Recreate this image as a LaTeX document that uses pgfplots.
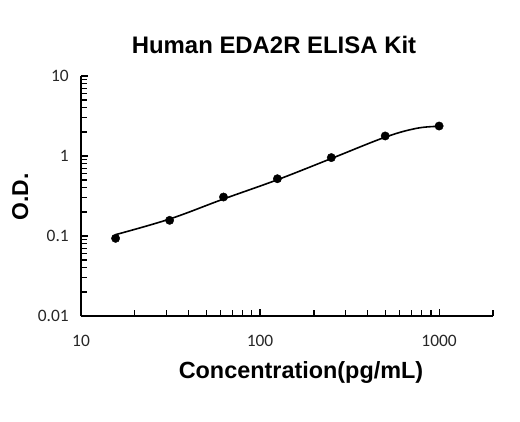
\documentclass[border=0pt]{standalone}
\usepackage{pgfplots}
\pgfplotsset{compat=1.18}
\usepackage{fontspec}
\setmainfont{Liberation Sans}
\newfontfamily\tickfont{Carlito}
\begin{document}
\begin{tikzpicture}[x=1bp,y=1bp]
\path[use as bounding box] (0,0) rectangle (520,421);
\begin{axis}[
  at={(81bp,105bp)}, anchor=south west,
  scale only axis, width=412bp, height=240bp,
  xmode=log, ymode=log,
  xmin=10, xmax=2000, ymin=0.01, ymax=10,
  axis x line*=bottom, axis y line*=left,
  axis line style={line width=1.5bp, black},
  xtick={10,100,1000}, xticklabels={10,100,1000},
  ytick={0.01,0.1,1,10}, yticklabels={0.01,0.1,1,10},
  minor xtick={20,30,40,50,60,70,80,90,200,300,400,500,600,700,800,900,2000},
  minor ytick={0.02,0.03,0.04,0.05,0.06,0.07,0.08,0.09,0.2,0.3,0.4,0.5,0.6,0.7,0.8,0.9,2,3,4,5,6,7,8,9},
  tick align=inside,
  major tick length=7bp, minor tick length=6bp,
  every tick/.style={black, line width=1.2bp},
  xticklabel style={font=\tickfont\fontsize{17.5}{20}\selectfont, inner sep=0pt, anchor=north, yshift=-19bp, text=black!85},
  yticklabel style={font=\tickfont\fontsize{17.5}{20}\selectfont, inner sep=0pt, anchor=east, xshift=-12bp, text=black!85},
  clip=false,
]
\addplot[black, line width=1.6bp, smooth, tension=0.6] coordinates {
  (15.6,0.104) (31.25,0.163) (62.5,0.29) (125,0.505) (250,0.93) (500,1.72) (750,2.22) (1000,2.35)
};
\addplot[only marks, mark=*, mark size=4.2bp, black] coordinates {
  (15.6,0.0935) (31.25,0.157) (62.5,0.307) (125,0.52) (250,0.955) (500,1.78) (1000,2.37)
};
\end{axis}
\node[anchor=base, font=\bfseries\fontsize{24}{28}\selectfont] at (274,368) {Human EDA2R ELISA Kit};
\node[anchor=base, font=\bfseries\fontsize{23.5}{28}\selectfont] at (301,42.7) {Concentration(pg/mL)};
\node[anchor=base, rotate=90, font=\bfseries\fontsize{23}{28}\selectfont] at (28,224) {O.D.};
\end{tikzpicture}
\end{document}
